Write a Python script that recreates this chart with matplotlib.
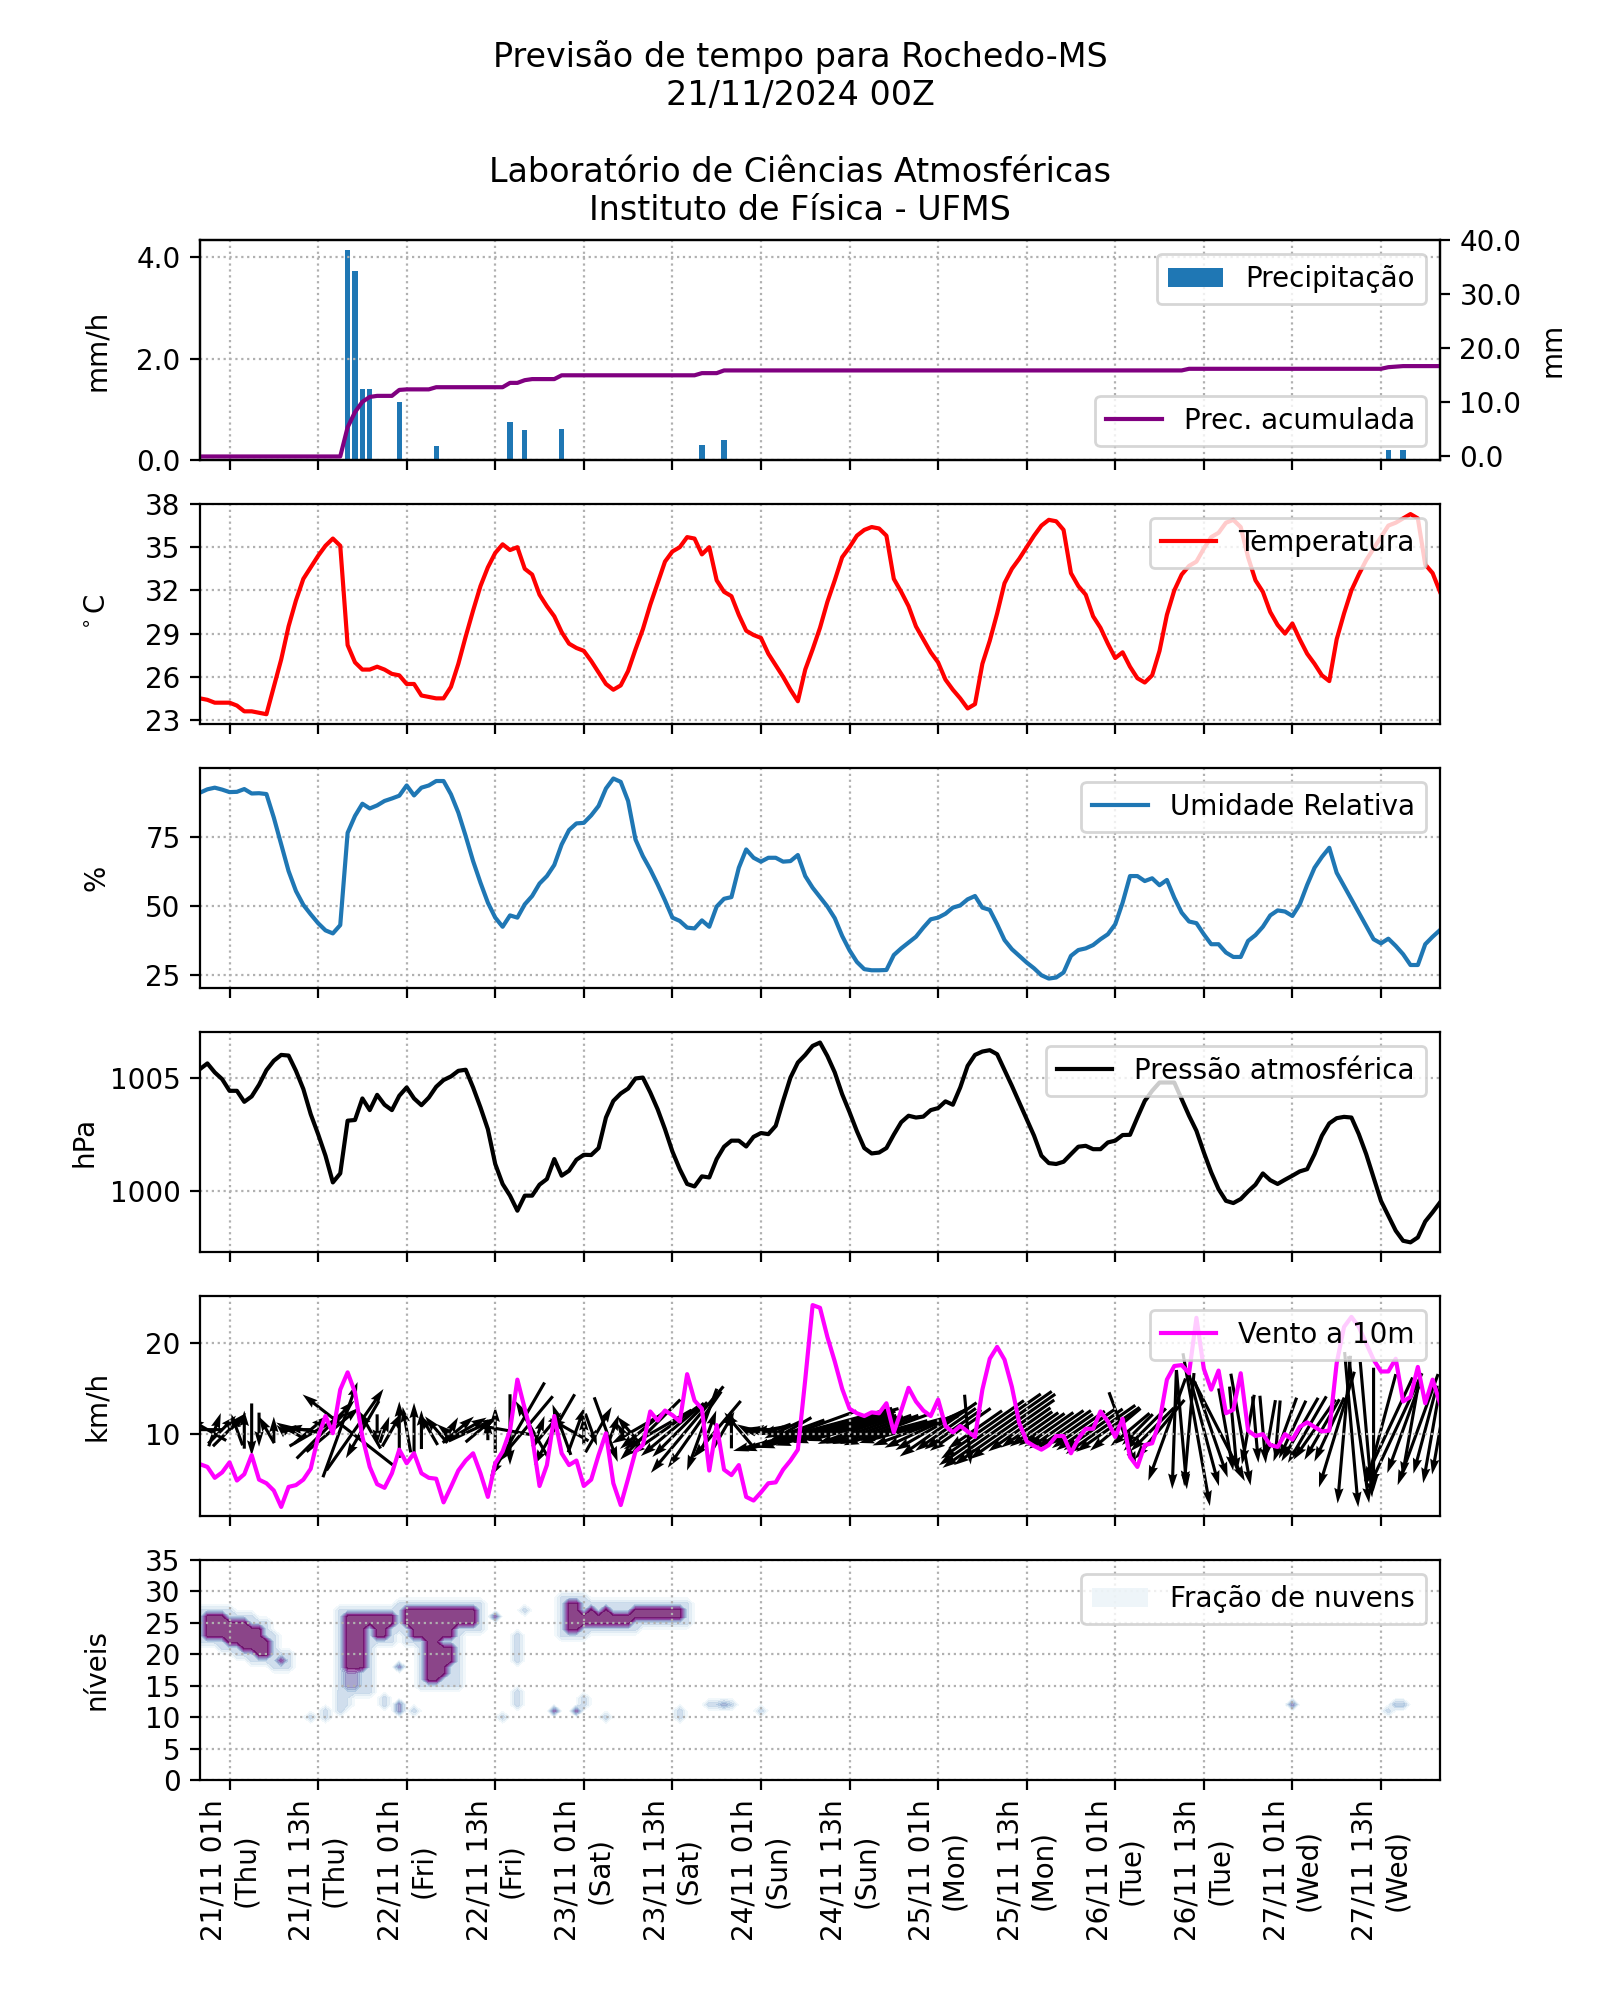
import numpy as np
import pandas as pd
import matplotlib
matplotlib.use("Agg")
import matplotlib.pyplot as plt
import matplotlib.dates as mdates
import matplotlib.ticker as mticker
from matplotlib.patches import Patch

# horas de previsão (local), 20/11 21h -> 27/11 21h
times = pd.date_range("2024-11-20 21:00", periods=169, freq="h")

# precipitação horária (mm/h): hora -> valor
prec_hours = [20, 21, 22, 23, 27, 32, 42, 44, 49, 68, 71, 161, 163]
prec_vals = [4.15, 3.73, 1.41, 1.41, 1.14, 0.28, 0.74, 0.60, 0.62, 0.30, 0.40, 0.20, 0.20]

# precipitação acumulada (mm)
prec_acc = ([0.0] * 20 + [5.4, 8.2, 10.1, 11.0, 11.2, 11.2, 11.2, 12.3]
            + [12.4] * 4 + [12.8] * 10 + [13.6, 13.6, 14.1, 14.3, 14.3, 14.3, 14.3]
            + [15.0] * 19 + [15.4, 15.4, 15.4] + [15.9] * 63 + [16.2] * 27
            + [16.5, 16.6] + [16.7] * 6)

temperatura = [
    24.5, 24.4, 24.2, 24.2, 24.2, 24.0, 23.6, 23.6, 23.5, 23.4,
    25.3, 27.2, 29.5, 31.3, 32.8, 33.6, 34.4, 35.1, 35.6, 35.1,
    28.2, 27.0, 26.5, 26.5, 26.7, 26.5, 26.2, 26.1, 25.5, 25.5,
    24.7, 24.6, 24.5, 24.5, 25.3, 26.9, 28.8, 30.6, 32.3, 33.6,
    34.6, 35.2, 34.8, 35.0, 33.5, 33.1, 31.7, 30.9, 30.2, 29.1,
    28.3, 28.0, 27.8, 27.1, 26.3, 25.5, 25.1, 25.4, 26.4, 27.9,
    29.3, 31.0, 32.5, 34.0, 34.7, 35.0, 35.7, 35.6, 34.5, 35.0,
    32.7, 31.9, 31.6, 30.3, 29.2, 28.9, 28.7, 27.6, 26.8, 26.0,
    25.1, 24.3, 26.5, 27.9, 29.4, 31.2, 32.7, 34.3, 35.0, 35.8,
    36.2, 36.4, 36.3, 35.8, 32.8, 31.9, 30.9, 29.5, 28.6, 27.7,
    27.0, 25.8, 25.1, 24.5, 23.8, 24.1, 26.9, 28.5, 30.4, 32.5,
    33.5, 34.2, 35.0, 35.8, 36.5, 36.9, 36.8, 36.2, 33.2, 32.3,
    31.7, 30.2, 29.4, 28.3, 27.3, 27.7, 26.7, 25.9, 25.6, 26.1,
    27.8, 30.3, 32.0, 33.1, 33.7, 34.0, 34.9, 35.7, 36.0, 36.7,
    36.9, 36.4, 34.3, 32.7, 31.9, 30.5, 29.6, 29.0, 29.7, 28.6,
    27.6, 26.9, 26.1, 25.7, 28.6, 30.4, 32.0, 33.1, 34.1, 34.9,
    35.7, 36.5, 36.7, 37.0, 37.3, 37.0, 33.8, 33.2, 31.9,
]

umidade = [
    90.9, 92.1, 92.7, 92.0, 91.1, 91.2, 92.2, 90.6, 90.7, 90.4,
    81.9, 72.2, 62.6, 55.4, 50.4, 47.0, 43.8, 41.2, 40.1, 43.1,
    76.4, 82.5, 86.9, 85.2, 86.3, 87.9, 88.8, 89.8, 93.5, 89.9,
    92.7, 93.5, 95.1, 95.1, 90.3, 83.7, 75.2, 66.2, 58.4, 51.2,
    45.8, 42.5, 46.6, 45.8, 50.6, 53.6, 58.1, 60.8, 64.8, 72.2,
    77.4, 79.8, 80.0, 82.7, 86.1, 92.4, 96.0, 94.8, 87.9, 74.0,
    68.0, 63.2, 57.8, 52.0, 45.8, 44.6, 42.2, 41.9, 44.8, 42.5,
    49.8, 52.6, 53.2, 63.8, 70.4, 67.4, 66.0, 67.4, 67.4, 66.0,
    66.2, 68.4, 60.8, 56.6, 53.2, 49.8, 45.6, 39.2, 34.0, 29.8,
    27.2, 26.8, 26.8, 26.9, 32.3, 34.7, 36.8, 38.9, 42.2, 45.2,
    45.8, 47.2, 49.4, 50.2, 52.4, 53.6, 49.4, 48.6, 43.4, 37.7,
    34.4, 32.0, 29.6, 27.5, 25.0, 23.8, 24.2, 26.0, 32.0, 34.1,
    34.7, 35.9, 38.0, 39.8, 43.4, 51.2, 60.8, 60.8, 59.0, 60.0,
    57.5, 59.4, 53.0, 47.6, 44.4, 43.8, 39.8, 36.2, 36.2, 33.2,
    31.6, 31.6, 37.4, 39.5, 42.5, 46.6, 48.4, 48.0, 46.4, 50.6,
    57.6, 63.8, 67.7, 71.0, 62.0, 57.2, 52.4, 47.6, 42.8, 38.0,
    36.5, 38.2, 35.6, 32.6, 28.7, 28.7, 36.2, 38.9, 41.3,
]

pressao = [
    1005.42, 1005.67, 1005.27, 1004.97, 1004.45, 1004.45, 1003.96, 1004.20, 1004.72, 1005.37,
    1005.79, 1006.05, 1006.02, 1005.34, 1004.53, 1003.41, 1002.52, 1001.56, 1000.37, 1000.77,
    1003.12, 1003.15, 1004.11, 1003.59, 1004.27, 1003.83, 1003.59, 1004.23, 1004.60, 1004.11,
    1003.81, 1004.15, 1004.63, 1004.93, 1005.09, 1005.34, 1005.39, 1004.60, 1003.71, 1002.74,
    1001.19, 1000.30, 999.78, 999.11, 999.78, 999.78, 1000.27, 1000.52, 1001.41, 1000.67,
    1000.89, 1001.38, 1001.60, 1001.59, 1001.90, 1003.26, 1004.00, 1004.33, 1004.55, 1005.00,
    1005.04, 1004.38, 1003.63, 1002.74, 1001.75, 1000.96, 1000.30, 1000.19, 1000.64, 1000.59,
    1001.41, 1001.96, 1002.23, 1002.23, 1001.97, 1002.40, 1002.57, 1002.52, 1002.89, 1004.00,
    1005.04, 1005.71, 1006.05, 1006.45, 1006.60, 1006.00, 1005.27, 1004.30, 1003.50, 1002.65,
    1001.90, 1001.66, 1001.70, 1001.90, 1002.50, 1003.05, 1003.34, 1003.26, 1003.30, 1003.59,
    1003.68, 1003.98, 1003.83, 1004.60, 1005.56, 1006.05, 1006.20, 1006.26, 1006.08, 1005.37,
    1004.67, 1003.93, 1003.19, 1002.45, 1001.56, 1001.23, 1001.19, 1001.29, 1001.63, 1001.96,
    1002.00, 1001.85, 1001.85, 1002.15, 1002.23, 1002.48, 1002.49, 1003.26, 1004.00, 1004.45,
    1004.82, 1004.82, 1004.82, 1004.08, 1003.34, 1002.67, 1001.71, 1000.82, 1000.07, 999.55,
    999.45, 999.63, 999.97, 1000.27, 1000.77, 1000.47, 1000.30, 1000.49, 1000.67, 1000.86,
    1000.96, 1001.63, 1002.45, 1003.00, 1003.23, 1003.29, 1003.26, 1002.52, 1001.63, 1000.59,
    999.55, 998.89, 998.22, 997.77, 997.70, 997.92, 998.63, 999.04, 999.48,
]

vento_vel = [
    6.7, 6.4, 5.2, 5.8, 6.9, 4.9, 5.6, 7.7, 5.0, 4.6,
    3.8, 2.0, 4.2, 4.4, 5.0, 6.2, 9.7, 12.0, 10.1, 14.9,
    16.8, 14.6, 9.7, 6.4, 4.5, 4.1, 5.7, 8.3, 6.8, 7.9,
    5.7, 5.2, 5.1, 2.5, 4.2, 6.0, 7.1, 7.9, 5.7, 3.1,
    6.8, 8.1, 10.4, 16.0, 12.8, 9.7, 4.3, 6.6, 12.0, 7.9,
    6.6, 7.1, 4.3, 5.0, 7.7, 10.1, 4.6, 2.2, 5.1, 8.1,
    8.8, 12.5, 11.5, 12.6, 12.1, 11.4, 16.6, 13.7, 12.8, 6.0,
    11.0, 6.1, 5.5, 6.6, 3.1, 2.7, 3.6, 4.6, 4.7, 6.1,
    7.1, 8.3, 16.0, 24.2, 23.9, 20.7, 18.0, 15.0, 12.8, 12.3,
    12.0, 12.4, 12.3, 13.4, 10.2, 12.6, 15.1, 13.6, 12.6, 12.0,
    13.8, 10.9, 10.2, 10.9, 10.3, 9.7, 14.9, 18.3, 19.6, 18.2,
    15.2, 11.2, 9.2, 8.7, 8.3, 8.8, 9.8, 9.8, 7.9, 9.5,
    10.6, 10.6, 12.5, 11.4, 9.7, 11.7, 7.5, 6.4, 8.8, 9.0,
    11.4, 16.0, 17.5, 17.6, 16.7, 22.8, 17.2, 14.9, 17.0, 12.3,
    12.7, 16.7, 10.4, 9.8, 10.0, 8.8, 8.6, 10.0, 9.4, 10.8,
    11.3, 10.8, 10.3, 10.4, 17.8, 21.8, 22.9, 21.8, 20.0, 18.2,
    16.9, 16.9, 18.3, 13.6, 14.1, 17.4, 13.4, 16.0, 13.4,
]

# direção do vento (graus, de onde sopra)
vento_dir = [
    90, 120, 200, 225, 225, 160, 180, 0, 0, 150,
    180, 135, 120, 90, 100, 230, 240, 225, 230, 200,
    128, 215, 30, 150, 0, 200, 210, 180, 170, 180,
    180, 150, 140, 130, 210, 230, 240, 245, 230, 180,
    180, 100, 0, 30, 40, 150, 200, 220, 30, 160,
    120, 200, 180, 340, 210, 340, 200, 150, 140, 60,
    50, 45, 60, 55, 50, 45, 40, 35, 20, 200,
    40, 210, 180, 140, 120, 100, 90, 80, 70, 65,
    60, 70, 70, 75, 75, 75, 75, 75, 75, 70,
    70, 70, 70, 70, 75, 75, 75, 70, 65, 60,
    55, 55, 55, 55, 355, 55, 55, 55, 55, 55,
    55, 55, 55, 55, 55, 55, 55, 55, 55, 55,
    55, 55, 55, 55, 50, 340, 50, 45, 45, 45,
    40, 20, 2, 355, 5, 350, 345, 341, 333, 350,
    355, 350, 10, 355, 355, 10, 5, 20, 25, 30,
    30, 35, 30, 25, 17, 5, 355, 352, 355, 0,
    15, 25, 25, 20, 10, 20, 15, 10, 10,
]

# nebulosidade: (hora ini, hora fim, nível ini, nível fim, fração)
nuvens = [
    # 21/11 madrugada
    (1, 3, 23, 26, 1.0), (4, 6, 22, 25, 1.0), (6, 8, 21, 24, 1.0), (8, 9, 20, 22, 1.0),
    (11, 11, 19, 19, 0.8),
    (0, 4, 22, 27, 0.25), (3, 7, 21, 26, 0.25), (5, 9, 20, 25, 0.25),
    (7, 10, 19, 23, 0.25), (10, 12, 18, 20, 0.25),
    # 21/11 noite
    (20, 26, 25, 26, 1.0), (20, 22, 18, 24, 1.0), (20, 21, 15, 17, 0.6),
    (24, 25, 23, 24, 1.0),
    (19, 27, 24, 27, 0.25), (19, 23, 14, 25, 0.25), (23, 26, 22, 25, 0.25),
    (19, 20, 12, 14, 0.2),
    # 22/11
    (28, 37, 25, 27, 1.0), (29, 34, 23, 24, 1.0), (31, 32, 16, 22, 1.0),
    (33, 33, 17, 21, 1.0), (34, 34, 19, 21, 1.0),
    (27, 38, 24, 28, 0.25), (28, 35, 22, 25, 0.25), (30, 35, 15, 23, 0.25),
    # 23/11
    (50, 51, 24, 28, 1.0), (52, 58, 25, 26, 1.0), (53, 53, 27, 27, 1.0),
    (55, 55, 27, 27, 1.0), (59, 65, 26, 27, 1.0),
    (49, 52, 23, 29, 0.25), (51, 59, 24, 28, 0.25), (58, 66, 25, 28, 0.25),
    # manchas isoladas
    (27, 27, 18, 18, 0.6), (27, 27, 11, 12, 0.6), (40, 40, 26, 26, 0.7),
    (48, 48, 11, 11, 0.7), (51, 51, 11, 11, 0.7), (148, 148, 12, 12, 0.6),
    (15, 15, 10, 10, 0.3), (17, 17, 10, 11, 0.3), (19, 19, 11, 14, 0.3),
    (25, 25, 12, 13, 0.3), (29, 29, 11, 11, 0.3), (41, 41, 10, 10, 0.3),
    (43, 43, 19, 23, 0.3), (43, 43, 12, 14, 0.3), (44, 44, 27, 27, 0.3),
    (52, 52, 12, 13, 0.3), (55, 55, 10, 10, 0.3), (65, 65, 10, 11, 0.3),
    (69, 72, 12, 12, 0.3), (71, 71, 12, 12, 0.5), (76, 76, 11, 11, 0.3),
    (161, 161, 11, 11, 0.3), (162, 163, 12, 12, 0.4),
]

# ------------------------------------------------------------
prec = np.zeros(len(times))
prec[prec_hours] = prec_vals

niveis = np.arange(0, 36)
fracao = np.zeros((len(niveis), len(times)))
for h0, h1, z0, z1, f in nuvens:
    fracao[z0:z1 + 1, h0:h1 + 1] = np.maximum(fracao[z0:z1 + 1, h0:h1 + 1], f)

spd = np.array(vento_vel)
rad = np.deg2rad(vento_dir)
u = -spd * np.sin(rad)
v = -spd * np.cos(rad)

fig, axes = plt.subplots(6, 1, figsize=(8, 10), dpi=200, sharex=True)
fig.suptitle("Previsão de tempo para Rochedo-MS\n21/11/2024 00Z\n\n"
             "Laboratório de Ciências Atmosféricas\nInstituto de Física - UFMS")

grid_kw = dict(linestyle=":", color="#b0b0b0")
LABEL_X = -0.072

# 1: precipitação
ax = axes[0]
ax.bar(times, prec, width=0.03, color="C0", label="Precipitação")
ax.set_ylabel("mm/h")
ax.yaxis.set_label_coords(LABEL_X, 0.5)
ax.set_ylim(0, 4.34)
ax.yaxis.set_major_locator(mticker.MultipleLocator(2))
ax.yaxis.set_major_formatter(mticker.FormatStrFormatter("%.1f"))
ax.grid(True, **grid_kw)
ax.legend(loc="upper right")
ax2 = ax.twinx()
ax2.plot(times, prec_acc, color="purple", label="Prec. acumulada")
ax2.set_ylim(-0.65, 40)
ax2.set_yticks([0, 10, 20, 30, 40])
ax2.yaxis.set_major_formatter(mticker.FormatStrFormatter("%.1f"))
ax2.set_ylabel("mm", labelpad=6)
ax2.legend(loc="lower right")

# 2: temperatura
ax = axes[1]
ax.plot(times, temperatura, color="red", label="Temperatura")
ax.set_ylabel(r"$^\circ$C")
ax.yaxis.set_label_coords(LABEL_X, 0.5)
ax.set_ylim(22.72, 38)
ax.set_yticks(range(23, 39, 3))
ax.grid(True, **grid_kw)
ax.legend(loc="upper right")

# 3: umidade
ax = axes[2]
ax.plot(times, umidade, color="C0", label="Umidade Relativa")
ax.set_ylabel("%")
ax.yaxis.set_label_coords(LABEL_X, 0.5)
ax.set_ylim(20.4, 99.8)
ax.set_yticks([25, 50, 75])
ax.grid(True, **grid_kw)
ax.legend(loc="upper right")

# 4: pressão
ax = axes[3]
ax.plot(times, pressao, color="black", label="Pressão atmosférica")
ax.set_ylabel("hPa")
ax.set_ylim(997.27, 1007.07)
ax.set_yticks([1000, 1005])
ax.grid(True, **grid_kw)
ax.legend(loc="upper right")

# 5: vento
ax = axes[4]
ax.plot(times, vento_vel, color="magenta", label="Vento a 10m")
ax.quiver(mdates.date2num(times), np.full(len(times), 10.5), u, v,
          pivot="middle", scale=29.4, scale_units="inches", width=0.0025)
ax.set_ylabel("km/h")
ax.yaxis.set_label_coords(LABEL_X, 0.5)
ax.set_ylim(1.0, 25.2)
ax.set_yticks([10, 20])
ax.grid(True, **grid_kw)
ax.legend(loc="upper right")

# 6: nuvens
ax = axes[5]
lev = [0.005, 0.1, 0.2, 0.3, 0.4, 0.5, 0.6, 0.7, 0.8, 0.9, 1.01]
cs = ax.contourf(times, niveis, fracao, levels=lev, cmap="BuPu", alpha=0.75)
ax.set_ylabel("níveis")
ax.yaxis.set_label_coords(LABEL_X, 0.5)
ax.set_ylim(0, 35)
ax.set_yticks(range(0, 36, 5))
ax.grid(True, **grid_kw)
ax.legend(handles=[Patch(facecolor=plt.get_cmap("BuPu")(0.08), alpha=0.75,
                         label="Fração de nuvens")], loc="upper right")

ax.set_xlim(times[0], times[-1])
ax.xaxis.set_major_locator(mdates.HourLocator(byhour=[1, 13]))
ax.xaxis.set_major_formatter(mdates.DateFormatter("%d/%m %Hh\n(%a)"))
plt.setp(ax.get_xticklabels(), rotation=90)

fig.savefig("out.png")
